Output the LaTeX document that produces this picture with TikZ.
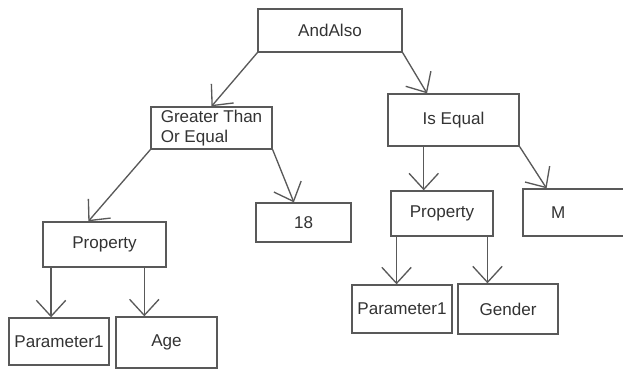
\documentclass[tikz,border=0pt]{standalone}
\usepackage{fontspec}
\setmainfont{Liberation Sans}
\usetikzlibrary{arrows.meta, calc}

\begin{document}
\begin{tikzpicture}[
  x=0.75pt, y=-0.75pt,
  every node/.style={font=\fontsize{12.8}{15}\selectfont, text=black!80},
  box/.style={draw=black!65, line width=1pt, inner sep=2pt},
  boxsize/.style 2 args={minimum width=#1*0.75pt, minimum height=#2*0.75pt},
  arr/.style={-{Straight Barb[length=12pt, width=22pt]}, draw=black!65, line width=1pt},
]
  \clip (0,0) rectangle (623,370);
  % expression tree
  \node[box, boxsize={144}{43}] (andalso) at (330, 30.5)  {AndAlso};
  \node[box, boxsize={121}{42}, align=left] (gte) at (211.5, 128) {Greater Than\\Or Equal};
  \node[box, boxsize={131}{52}] (iseq)    at (453.5, 120) {Is Equal};
  \node[box, boxsize={123}{45}] (prop1)   at (104.5, 244.5) {Property};
  \node[box, boxsize={95}{39}]  (n18)     at (303.5, 222.5) {18};
  \node[box, boxsize={102}{45}] (prop2)   at (442, 213.5) {Property};
  \node[box, boxsize={104}{47}, text width=36pt, align=left] (m) at (575, 212.5) {M};
  \node[box, boxsize={100}{47}] (par1)    at (59, 341.5)  {Parameter1};
  \node[box, boxsize={101}{51}] (age)     at (166.5, 342.5) {Age};
  \node[box, boxsize={100}{48}] (par2)    at (402, 309)   {Parameter1};
  \node[box, boxsize={100}{50}] (gender)  at (508, 309)   {Gender};

  \draw[arr] (andalso.south west) -- (gte.north);
  \draw[arr] (andalso.south east) -- ($(iseq.north west)!.3!(iseq.north east)$);
  \draw[arr] (gte.south west) -- ($(prop1.north west)!.37!(prop1.north east)$);
  \draw[arr] (gte.south east) -- ($(n18.north west)!.4!(n18.north east)$);
  \draw[arr] (iseq.south east) -- ($(m.north west)!.23!(m.north east)$);

  \coordinate (ie) at ($(iseq.south west)!.275!(iseq.south east)$);
  \coordinate (p1a) at ($(prop1.south west)!.07!(prop1.south east)$);
  \coordinate (p1b) at ($(prop1.south west)!.82!(prop1.south east)$);
  \coordinate (p2a) at ($(prop2.south west)!.06!(prop2.south east)$);
  \coordinate (p2b) at ($(prop2.south west)!.94!(prop2.south east)$);
  \draw[arr] (ie)  -- (ie |- prop2.north);
  \draw[arr] (p1a) -- (p1a |- par1.north);
  \draw[arr] (p1b) -- (p1b |- age.north);
  \draw[arr] (p2a) -- (p2a |- par2.north);
  \draw[arr] (p2b) -- (p2b |- gender.north);
\end{tikzpicture}
\end{document}
